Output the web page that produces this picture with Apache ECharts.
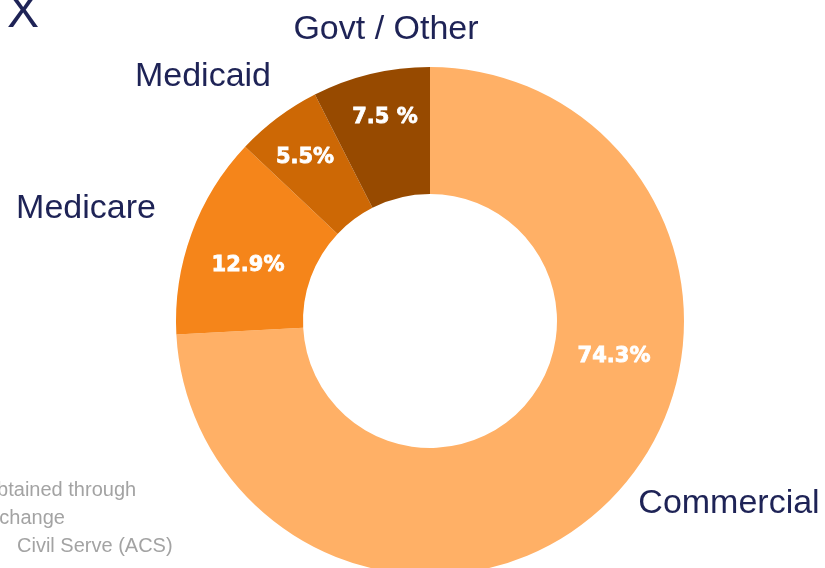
<!DOCTYPE html>
<html>
<head>
<meta charset="utf-8">
<script src="https://cdn.jsdelivr.net/npm/echarts@6/dist/echarts.min.js"></script>
<style>
html,body{margin:0;padding:0;background:#fff;}
#chart{width:825px;height:568px;}
</style>
</head>
<body>
<div id="chart"></div>
<script>
// Data
var categories = ['Commercial', 'Medicare', 'Medicaid', 'Govt / Other'];
var values = [74.3, 12.9, 5.5, 7.5];
var valueLabels = ['74.3%', '12.9%', '5.5%', '7.5 %'];
var sliceColors = ['#FFB066', '#F5851A', '#CD6805', '#974A00'];
var footnoteLines = ['obtained through', 'Exchange', 'Civil Serve (ACS)'];

// Layout (positions of labels)
var innerLabelPos = [[614, 357], [248, 266], [305, 158], [385, 118]];
var outerLabelPos = [[729, 504], [86, 209], [203, 77], [386, 30]];
var navy = '#1E2356';

var chart = echarts.init(document.getElementById('chart'));

var graphics = [];
categories.forEach(function (name, i) {
  graphics.push({
    type: 'text', x: outerLabelPos[i][0], y: outerLabelPos[i][1],
    style: { text: name, fill: navy, font: '34px "Liberation Sans", Arial, sans-serif',
      textAlign: 'center', textVerticalAlign: 'middle' }
  });
});
graphics.push({
  type: 'text', x: 7, y: 14,
  style: { text: 'X', fill: navy, font: '48px "Liberation Sans", Arial, sans-serif',
    textAlign: 'left', textVerticalAlign: 'middle' }
});
var footX = [-14, -24, 17];
var footY = [490, 518, 546];
footnoteLines.forEach(function (t, i) {
  graphics.push({
    type: 'text', x: footX[i], y: footY[i],
    style: { text: t, fill: '#a3a3a3', font: '20px "Liberation Sans", Arial, sans-serif',
      textAlign: 'left', textVerticalAlign: 'middle' }
  });
});

chart.setOption({
  animation: false,
  graphic: graphics,
  series: [{
    type: 'pie',
    center: [430, 321],
    radius: [127, 254],
    startAngle: 90,
    clockwise: true,
    avoidLabelOverlap: false,
    silent: true,
    itemStyle: { borderWidth: 0 },
    label: {
      show: true,
      position: 'inside',
      formatter: function (p) { return valueLabels[p.dataIndex]; },
      color: '#ffffff',
      fontFamily: '"DejaVu Sans", sans-serif',
      fontWeight: 'bold',
      fontSize: 21,
      textBorderColor: '#ffffff',
      textBorderWidth: 0.8
    },
    labelLine: { show: false },
    labelLayout: function (params) {
      var p = innerLabelPos[params.dataIndex];
      return { x: p[0], y: p[1], align: 'center', verticalAlign: 'middle' };
    },
    data: categories.map(function (c, i) {
      return { name: c, value: values[i], itemStyle: { color: sliceColors[i] } };
    })
  }]
});
</script>
</body>
</html>
